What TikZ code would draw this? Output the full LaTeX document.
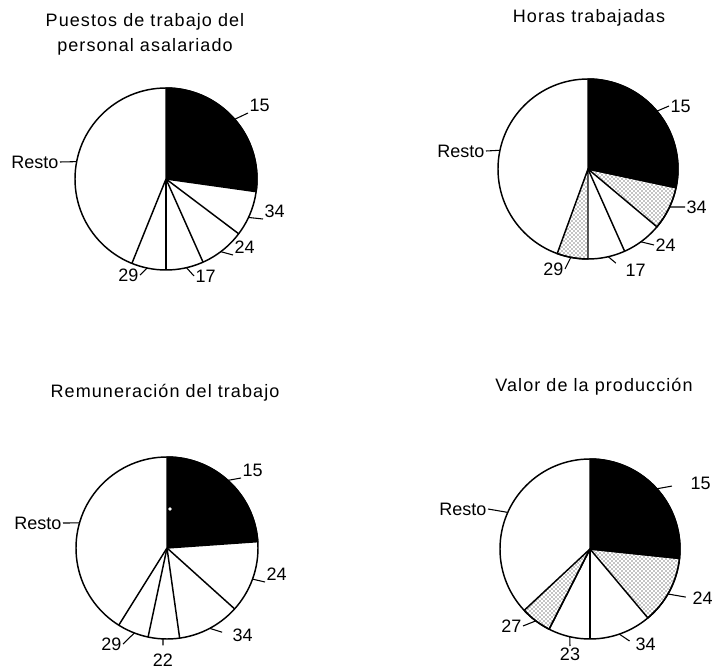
\documentclass[tikz,border=0pt]{standalone}
\usepackage{fontspec}
\setmainfont{Liberation Sans}
\newfontfamily\titlefont[LetterSpace=6]{Liberation Sans}
\usetikzlibrary{patterns}
\begin{document}
\begin{tikzpicture}[x=0.75pt,y=0.75pt,
  pie/.style={draw=black,line width=1.1pt,line join=round},
  dark/.style={pie,fill=black},
  dotty/.style={pie,pattern=crosshatch dots},
  lbl/.style={inner sep=1pt,font=\fontsize{13.5}{15}\selectfont},
  ttl/.style={align=center,font=\titlefont\fontsize{13.5}{18.75}\selectfont},
  leader/.style={line width=0.8pt}]
\useasboundingbox (0,0) rectangle (715,669);

\node[ttl] (ta) at (145,634.5) {Puestos de trabajo del\\personal asalariado};
\begin{scope}[shift={(166,490)}]
\draw[dark] (0,0) -- (90:91) arc[start angle=90,end angle=-8,radius=91] -- cycle;
\draw[pie] (0,0) -- (-37:91);
\draw[pie] (0,0) -- (-66:91);
\draw[pie] (0,0) -- (-90:91);
\draw[pie] (0,0) -- (-112:91);
\draw[pie] (0,0) circle (91);
\coordinate (a15) at (41:91);
\coordinate (a34) at (-25:91);
\coordinate (a24) at (-53:91);
\coordinate (a17) at (-77:91);
\coordinate (a29) at (-102:91);
\coordinate (aresto) at (169:91);
\node[lbl,anchor=south west] (la15) at (82,66) {15};
\node[lbl,anchor=south west] (la34) at (97,-40) {34};
\node[lbl,anchor=south west] (la24) at (67,-76) {24};
\node[lbl,anchor=west] (la17) at (28,-97) {17};
\node[lbl,anchor=east] (la29) at (-26,-96) {29};
\node[lbl,anchor=east] (laresto) at (-106,17) {Resto};
\draw[leader] (la15.south west) -- (a15);
\draw[leader] (la34.south west) -- (a34);
\draw[leader] (la24.south west) -- (a24);
\draw[leader] (la17.west) -- (a17);
\draw[leader] (la29.east) -- (a29);
\draw[leader] (laresto.east) -- (aresto);
\end{scope}

\node[ttl] (tb) at (589,651) {Horas trabajadas};
\begin{scope}[shift={(588,500)}]
\draw[dark] (0,0) -- (90:90) arc[start angle=90,end angle=-12,radius=90] -- cycle;
\draw[dotty] (0,0) -- (-12:90) arc[start angle=-12,end angle=-40,radius=90] -- cycle;
\draw[pie] (0,0) -- (-66:90);
\draw[dotty] (0,0) -- (-90:90) arc[start angle=-90,end angle=-110,radius=90] -- cycle;
\draw[pie] (0,0) circle (90);
\coordinate (b15) at (40:90);
\coordinate (b34) at (-25:90);
\coordinate (b24) at (-54:90);
\coordinate (b17) at (-77:90);
\coordinate (b29) at (-101:90);
\coordinate (bresto) at (168:90);
\node[lbl,anchor=west] (lb15) at (81,63) {15};
\node[lbl,anchor=west] (lb34) at (97,-38) {34};
\node[lbl,anchor=west] (lb24) at (66,-76) {24};
\node[lbl,anchor=west] (lb17) at (36,-101) {17};
\node[lbl,anchor=east] (lb29) at (-23,-100) {29};
\node[lbl,anchor=east] (lbresto) at (-102,18) {Resto};
\draw[leader] (lb15.west) -- (b15);
\draw[leader] (lb34.west) -- (b34);
\draw[leader] (lb24.west) -- (b24);
\draw[leader,shorten <=8pt] (lb17.west) -- (b17);
\draw[leader] (lb29.east) -- (b29);
\draw[leader] (lbresto.east) -- (bresto);
\end{scope}

\node[ttl] (tc) at (165,276) {Remuneración del trabajo};
\begin{scope}[shift={(167,121)}]
\draw[dark] (0,0) -- (90:91) arc[start angle=90,end angle=4,radius=91] -- cycle;
\draw[pie] (0,0) -- (-42:91);
\draw[pie] (0,0) -- (-82:91);
\draw[pie] (0,0) -- (-102:91);
\draw[pie] (0,0) -- (-122:91);
\draw[pie] (0,0) circle (91);
\fill[white] (3,39) circle (1.8);
\coordinate (c15) at (48:91);
\coordinate (c24) at (-20:91);
\coordinate (c34) at (-62:91);
\coordinate (c22) at (-92.5:91);
\coordinate (c29) at (-111:91);
\coordinate (cresto) at (164:91);
\node[lbl,anchor=south west] (lc15) at (74,70) {15};
\node[lbl,anchor=south west] (lc24) at (98,-34) {24};
\node[lbl,anchor=west] (lc34) at (64,-87) {34};
\node[lbl,anchor=north] (lc22) at (-4,-104) {22};
\node[lbl,anchor=east] (lc29) at (-44,-96) {29};
\node[lbl,anchor=east] (lcresto) at (-104,25) {Resto};
\draw[leader] (lc15.south west) -- (c15);
\draw[leader] (lc24.south west) -- (c24);
\draw[leader,shorten <=7pt] (lc34.west) -- (c34);
\draw[leader,shorten <=5pt] (lc22.north) -- (c22);
\draw[leader] (lc29.east) -- (c29);
\draw[leader] (lcresto.east) -- (cresto);
\end{scope}

\node[ttl] (td) at (594,282) {Valor de la producción};
\begin{scope}[shift={(590,120)}]
\draw[dark] (0,0) -- (90:90) arc[start angle=90,end angle=-6,radius=90] -- cycle;
\draw[dotty] (0,0) -- (-6:90) arc[start angle=-6,end angle=-50,radius=90] -- cycle;
\draw[pie] (0,0) -- (-90:90);
\draw[pie] (0,0) -- (-117:90);
\draw[dotty] (0,0) -- (-117:90) arc[start angle=-117,end angle=-137,radius=90] -- cycle;
\draw[pie] (0,0) circle (90);
\coordinate (d15) at (42:90);
\coordinate (d24) at (-30:90);
\coordinate (d34) at (-71:90);
\coordinate (d23) at (-103:90);
\coordinate (d27) at (-127:90);
\coordinate (dresto) at (156:90);
\node[lbl,anchor=west] (ld15) at (99,66) {15};
\node[lbl,anchor=west] (ld24) at (101,-49) {24};
\node[lbl,anchor=west] (ld34) at (44,-95) {34};
\node[lbl,anchor=north] (ld23) at (-20,-97) {23};
\node[lbl,anchor=east] (ld27) at (-67,-77) {27};
\node[lbl,anchor=east] (ldresto) at (-102,40) {Resto};
\draw[leader,shorten <=13pt] (ld15.west) -- (d15);
\draw[leader,shorten <=4pt] (ld24.west) -- (d24);
\draw[leader,shorten <=4pt] (ld34.west) -- (d34);
\draw[leader] (ld23.north) -- (d23);
\draw[leader] (ld27.east) -- (d27);
\draw[leader] (ldresto.east) -- (dresto);
\end{scope}
\end{tikzpicture}
\end{document}
